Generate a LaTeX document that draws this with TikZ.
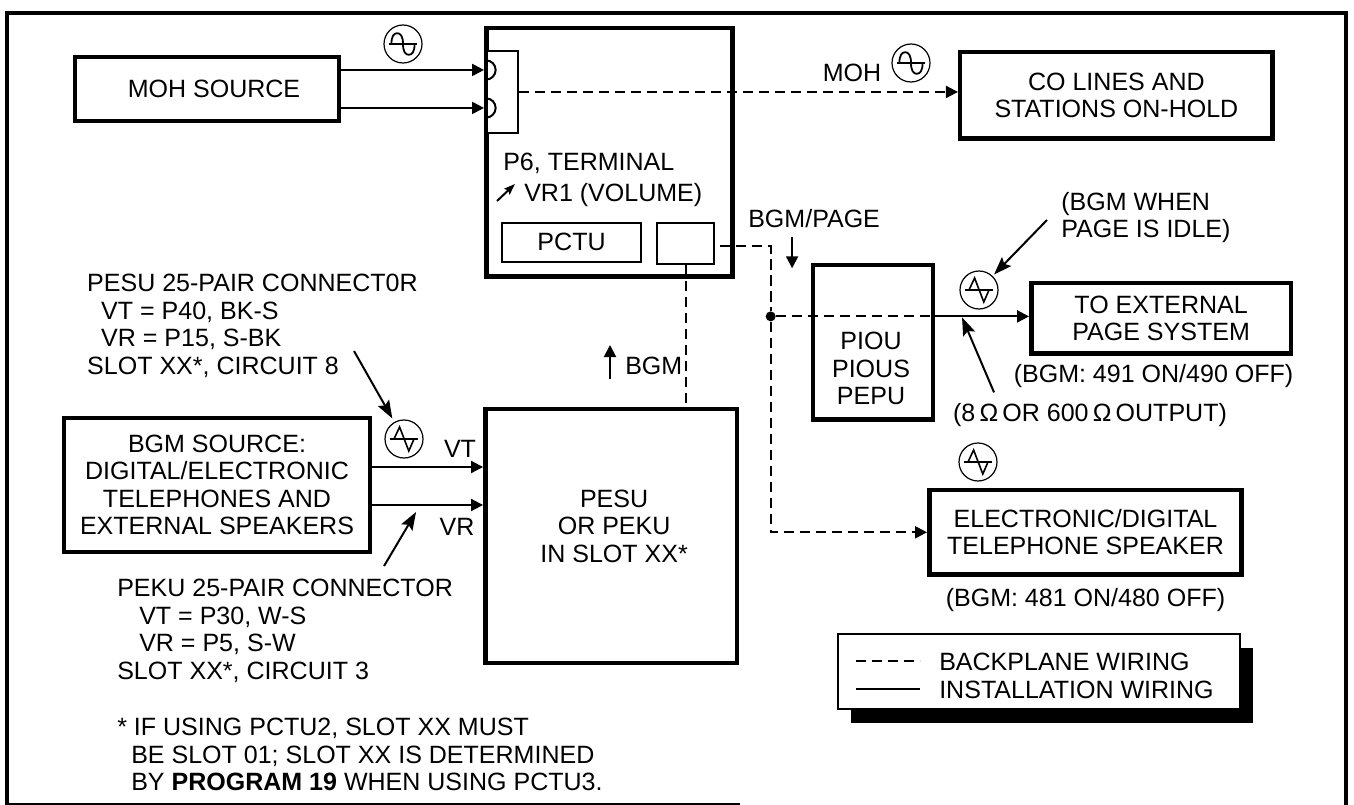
\documentclass[tikz,border=0pt]{standalone}
\usepackage{fontspec}
\setmainfont{Liberation Sans}
\usepackage{tikz}
\usetikzlibrary{arrows.meta, positioning, shadows, calc}
\newcommand{\diagfont}{\fontsize{17.8pt}{19.56pt}\selectfont}
\tikzset{
  heavybox/.style={
    draw=black,
    line width=1.125mm,
    align=center,
    inner sep=0pt,
    font=\diagfont,
    fill=white
  },
  lightbox/.style={
    draw=black,
    line width=.5mm,
    align=center,
    inner sep=0pt,
    font=\diagfont,
    fill=white
  },
  caption/.style={font=\diagfont, inner sep=0pt, align=left},
  textline/.style={font=\diagfont, inner sep=0pt, text height=4.5mm, text depth=0mm},
  glyph/.style={circle, draw=black, line width=.3mm, minimum size=9.5mm, inner sep=0pt},
  sineglyph/.style={glyph, path picture={
    \draw[line width=.3mm] ($(path picture bounding box.center)+(-3.4mm,0)$) -- ++(6.8mm,0);
    \draw[line width=.45mm, shift={(path picture bounding box.center)}] (-2.9mm,0)
      .. controls (-2.9mm,1.9mm) and (-2.3mm,2.7mm) .. (-1.45mm,2.7mm)
      .. controls (-.6mm,2.7mm) and (0mm,1.9mm) .. (0mm,0mm)
      .. controls (0mm,-1.9mm) and (.6mm,-2.7mm) .. (1.45mm,-2.7mm)
      .. controls (2.3mm,-2.7mm) and (2.9mm,-1.9mm) .. (2.9mm,0mm);
  }},
  zigglyph/.style={glyph, path picture={
    \draw[line width=.3mm] ($(path picture bounding box.center)+(-3.6mm,0)$) -- ++(7.2mm,0);
    \draw[line width=.4mm] ($(path picture bounding box.center)+(-2.5mm,0)$)
      -- ++(1.4mm,3mm) -- ++(2.3mm,-6mm) -- ++(1.3mm,3mm);
  }},
  junction/.style={circle, fill=black, minimum size=2.5mm, inner sep=0pt},
  wiring/.style={-{Triangle[length=3mm,width=3mm]}, line width=.5mm},
  plainwire/.style={line width=.5mm},
  backplane/.style={line width=.5mm, dash pattern=on 2.6mm off 1.4mm},
  backplanefeed/.style={backplane, -{Triangle[length=3mm,width=3mm]}},
  pointer/.style={-{Stealth[length=4.5mm,width=3.2mm,inset=.8mm]}, line width=.5mm},
  tinypointer/.style={-{Stealth[length=2.8mm,width=2mm,inset=.5mm]}, line width=.5mm}
}
\begin{document}
\begin{tikzpicture}
  \useasboundingbox (0,0) rectangle (338.5mm,-201.25mm);
  \draw[line width=1mm] (1.75mm,-201.25mm) -- (1.75mm,-3.25mm) -- (336.5mm,-3.25mm) -- (336.5mm,-201.25mm);
  \draw[line width=.5mm] (1.75mm,-201mm) -- (185mm,-201mm);

  \node[heavybox, minimum width=65.9mm, minimum height=15.9mm] (mohsource) at (51.75mm,-22.25mm) {\hspace*{3.5mm}MOH SOURCE};
  \node[heavybox, below right=-7.25mm and 35.75mm of mohsource.north east, minimum width=61.6mm, minimum height=62.1mm] (terminal) {};
  \node[lightbox, below right=6mm and .5mm of terminal.north west, minimum width=7.75mm, minimum height=20.5mm] (jackbox) {};
  \node[lightbox, above right=4mm and 4.25mm of terminal.south west, minimum width=34.75mm, minimum height=9.75mm] (pctu) {PCTU};
  \node[lightbox, above right=-.5mm and 3.5mm of pctu.south east, minimum width=14.25mm, minimum height=10.25mm] (busport) {};
  \node[textline, anchor=west] (p6label) at (125.75mm,-40.5mm) {P6, TERMINAL};
  \node[textline, anchor=west] (vr1label) at (131mm,-48.25mm) {VR1 (VOLUME)};

  \node[heavybox, below right=6mm and 55.75mm of terminal.north east, minimum width=78.1mm, minimum height=21.6mm] (colines) {CO LINES AND\\STATIONS ON-HOLD};
  \node[heavybox, below right=59.25mm and 19mm of terminal.north east, minimum width=29.9mm, minimum height=38.6mm] (piou) {};
  \node[caption, align=center] (pioutext) at ($(piou.center)+(-.5mm,-6.6mm)$) {PIOU\\PIOUS\\PEPU};
  \node[heavybox, below right=4.5mm and 23.5mm of piou.north east, minimum width=64.9mm, minimum height=17.6mm] (toexternal) {TO EXTERNAL\\PAGE SYSTEM};
  \node[heavybox, below right=16.5mm and -2mm of piou.south east, minimum width=78.1mm, minimum height=21.1mm] (speaker) {ELECTRONIC/DIGITAL\\TELEPHONE SPEAKER};

  \node[heavybox, minimum width=76.4mm, minimum height=33.4mm] (bgmsource) at (54.25mm,-121.25mm) {BGM SOURCE:\\DIGITAL/ELECTRONIC\\TELEPHONES AND\\EXTERNAL SPEAKERS};
  \node[heavybox, below right=-2.25mm and 27.75mm of bgmsource.north east, minimum width=62.9mm, minimum height=63.4mm] (pesu) {};
  \node[caption, align=center] (pesutext) at ($(pesu.center)+(.75mm,2.5mm)$) {PESU\\OR PEKU\\IN SLOT XX*};

  \node[caption, above right=9.6mm and 6.25mm of bgmsource.north west] (pesulabel) {PESU 25-PAIR CONNECT0R\\\hspace*{3.5mm}VT = P40, BK-S\\\hspace*{3.5mm}VR = P15, S-BK\\SLOT XX*, CIRCUIT 8};
  \node[caption, anchor=north west] (pekulabel) at (29.25mm,-144.75mm) {PEKU 25-PAIR CONNECTOR\\\hspace*{5.5mm}VT = P30, W-S\\\hspace*{5.5mm}VR = P5, S-W\\SLOT XX*, CIRCUIT 3};
  \node[caption, anchor=north west] (footnote) at (29.25mm,-179.5mm) {* IF USING PCTU2, SLOT XX MUST\\\hspace*{3.5mm}BE SLOT 01; SLOT XX IS DETERMINED\\\hspace*{3.5mm}BY \textbf{PROGRAM 19} WHEN USING PCTU3.};

  \node[textline] (mohlabel) at (213mm,-18.25mm) {MOH};
  \node[textline, anchor=west] (bgmpage) at (187mm,-54.75mm) {BGM/PAGE};
  \node[textline, anchor=west] (bgmlabel) at (156.25mm,-91.25mm) {BGM};
  \node[textline] (vtlabel) at (115mm,-112mm) {VT};
  \node[textline] (vrlabel) at (114.25mm,-131.5mm) {VR};
  \node[caption, anchor=north west] (idlelabel) at (265.25mm,-48mm) {(BGM WHEN\\PAGE IS IDLE)};
  \node[textline, below=2mm of toexternal, xshift=-1.9mm] (page491) {(BGM: 491 ON/490 OFF)};
  \node[textline] (omegalabel) at (272.5mm,-103mm) {(8\,Ω\,OR 600\,Ω\,OUTPUT)};
  \node[textline, below=2.75mm of speaker] (speaker481) {(BGM: 481 ON/480 OFF)};

  \node[sineglyph] (mohwave) at (100.75mm,-11mm) {};
  \node[sineglyph] (holdwave) at (227.75mm,-15.75mm) {};
  \node[zigglyph] (pagewave) at (244.75mm,-72.5mm) {};
  \node[zigglyph] (speakerwave) at (244.5mm,-115.5mm) {};
  \node[zigglyph] (bgmwave) at (101mm,-109.75mm) {};

  \node[junction, left=8.75mm of piou.west, yshift=6.5mm] (tee) {};

  % legend
  \node[lightbox, minimum width=100.5mm, minimum height=18.75mm, drop shadow={shadow xshift=3.25mm, shadow yshift=-3.5mm, opacity=1, fill=black}] (legend) at (259.75mm,-167.9mm) {};
  \node[textline, anchor=west] (legendback) at (234.75mm,-165.25mm) {BACKPLANE WIRING};
  \node[textline, anchor=west] (legendinst) at (234.75mm,-172.25mm) {INSTALLATION WIRING};
  \draw[backplane] ([xshift=-20.75mm]legendback.west) -- ([xshift=-4.75mm]legendback.west);
  \draw[plainwire] ([xshift=-20.75mm]legendinst.west) -- ([xshift=-4.75mm]legendinst.west);

  % jacks on the terminal strip
  \coordinate (jacktop) at ($(jackbox.north west)+(0,-5mm)$);
  \coordinate (jacklow) at ($(jackbox.north west)+(0,-14.5mm)$);
  \draw[plainwire] ($(jacktop)+(0,2.4mm)$) arc (90:-90:2.4mm);
  \draw[plainwire] ($(jacklow)+(0,2.4mm)$) arc (90:-90:2.4mm);

  \draw[wiring] (jacktop -| mohsource.east) -- (jacktop -| terminal.west);
  \draw[wiring] (jacklow -| mohsource.east) -- (jacklow -| terminal.west);
  \draw[backplanefeed] (jackbox.east) -- (jackbox.east -| colines.west);

  \draw[backplane] ([shift={(1.25mm,-.6mm)}]busport.east) -| (tee);
  \draw[backplane] (busport.south) -- (busport.south |- pesu.north);
  \draw[backplane] (tee) -- (tee -| piou.east);
  \draw[wiring] (tee -| piou.east) -- (tee -| toexternal.west);
  \draw[backplanefeed] (tee) |- (speaker.west);

  \draw[wiring] ([yshift=4.5mm]bgmsource.east) -- ([yshift=4.5mm]bgmsource.east -| pesu.west);
  \draw[wiring] ([yshift=-5mm]bgmsource.east) -- ([yshift=-5mm]bgmsource.east -| pesu.west);

  % label pointers
  \coordinate (pesutail) at ($(bgmwave)+(-12.5mm,22mm)$);
  \draw[pointer, shorten >=1mm] (pesutail) -- (bgmwave);
  \coordinate (pekutip) at ($(bgmsource.east)+(11mm,-6.75mm)$);
  \coordinate (pekutail) at ($(pekutip)+(-8mm,-13.5mm)$);
  \draw[pointer] (pekutail) -- (pekutip);
  \coordinate (idletail) at ($(pagewave)+(17mm,17.5mm)$);
  \draw[pointer, shorten >=.5mm] (idletail) -- (pagewave);
  \coordinate (omegatip) at ($(tee -| piou.east)+(6.75mm,-.25mm)$);
  \coordinate (omegatail) at ($(omegatip)+(8mm,-18.75mm)$);
  \draw[pointer] (omegatail) -- (omegatip);
  \coordinate (pagetail) at ($(bgmpage.south)+(-5.5mm,-2.25mm)$);
  \coordinate (pagetip) at ($(pagetail)+(0,-7.75mm)$);
  \draw[wiring] (pagetail) -- (pagetip);
  \coordinate (bgmtail) at ($(bgmlabel.west)+(-3.75mm,-3.5mm)$);
  \coordinate (bgmtip) at ($(bgmtail)+(0,8.5mm)$);
  \draw[wiring] (bgmtail) -- (bgmtip);
  \coordinate (vr1tail) at ($(vr1label.west)+(-6.75mm,-2mm)$);
  \coordinate (vr1tip) at ($(vr1label.west)+(-2.25mm,2.25mm)$);
  \draw[tinypointer] (vr1tail) -- (vr1tip);
\end{tikzpicture}
\end{document}
